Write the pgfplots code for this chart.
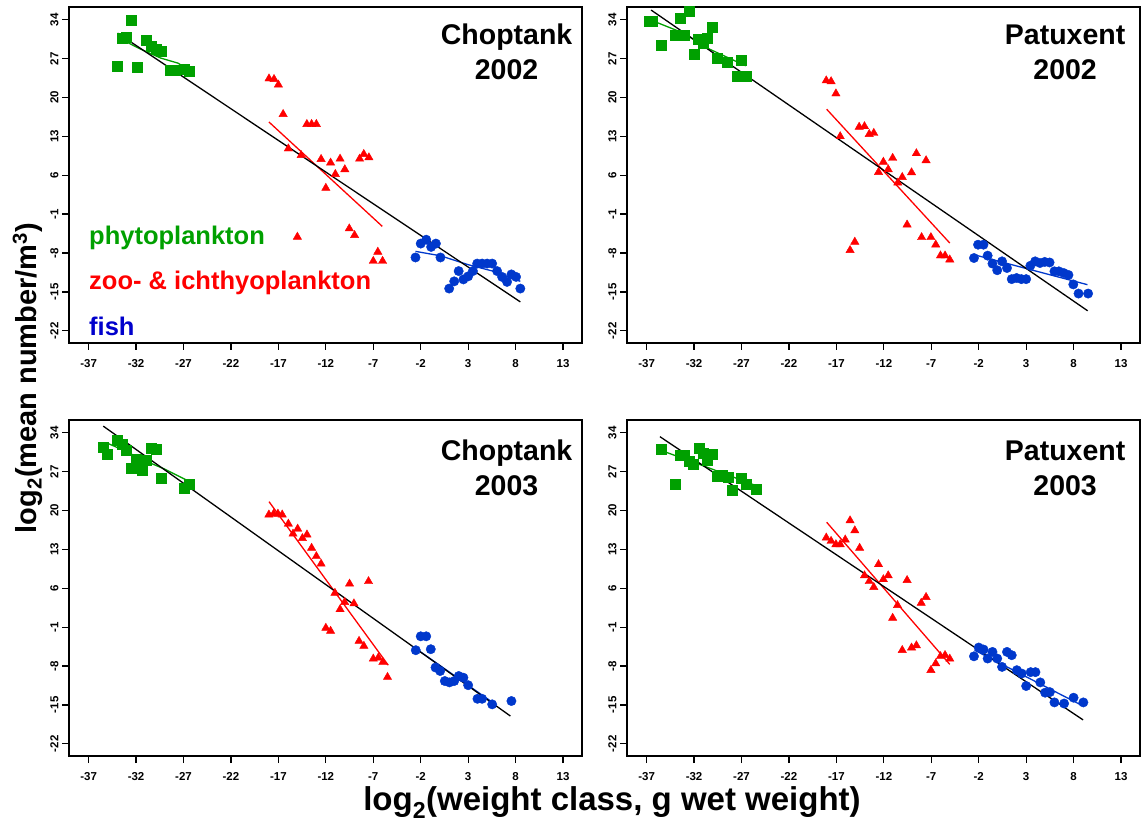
\documentclass[border=0pt]{standalone}
\usepackage{fontspec}
\setmainfont{Liberation Sans}
\usepackage{pgfplots}
\pgfplotsset{compat=1.18}

\definecolor{phyto}{RGB}{0,160,0}
\definecolor{zoo}{RGB}{255,0,0}
\definecolor{fishc}{RGB}{0,56,204}
\definecolor{fishtxt}{RGB}{0,0,204}

\pgfplotsset{
  panel/.style={
    scale only axis, width=513pt, height=336pt,
    anchor=north west,
    xmin=-39.07, xmax=15.0, ymin=-24.2, ymax=36.3,
    xtick={-37,-32,...,13}, ytick={-22,-15,...,34},
    tick align=outside, tick pos=left,
    major tick length=7pt,
    axis line style={line width=1.8pt},
    major tick style={line width=1.3pt, black},
    ticklabel style={font=\fontsize{11.5}{13}\selectfont\bfseries},
    /pgf/number format/assume math mode=true,
    xticklabel style={yshift=-6pt},
    yticklabel style={rotate=90, anchor=south},
  },
  phy/.style={only marks, mark=square*, mark size=5pt, color=phyto},
  zp/.style={only marks, mark=triangle*, mark size=4.8pt, color=zoo},
  fp/.style={only marks, mark=*, mark size=4.7pt, color=fishc},
  fit/.style={no markers, line width=1.3pt},
}
\newcommand{\ttl}{\fontsize{28.5}{34}\selectfont\bfseries}

\begin{document}
\begin{tikzpicture}
\useasboundingbox (0pt,0pt) rectangle (1141pt,825pt);

% Choptank 2002
\begin{axis}[panel, at={(69pt,818pt)}]
\addplot[phy] table {
-32.55 34.0
-33.5 30.7
-33.0 30.9
-33.95 25.6
-31.9 25.4
-30.9 30.3
-30.4 29.2
-29.9 28.7
-29.4 28.3
-28.45 24.85
-27.9 24.85
-26.9 25.1
-26.4 24.8
};
\addplot[zp] table {
-17.99 23.4
-17.46 23.3
-17.0 22.3
-16.5 17.0
-14.0 15.2
-13.5 15.2
-13.0 15.2
-15.95 10.8
-14.6 9.6
-12.5 8.9
-11.5 8.25
-10.5 8.96
-11.0 6.2
-10.0 7.05
-12.0 3.7
-8.44 8.96
-8.0 9.8
-7.46 9.2
-15.0 -5.1
-9.53 -3.6
-8.97 -4.8
-6.52 -7.8
-7.0 -9.45
-6.02 -9.45
};
\addplot[fp] table {
-2.55 -8.8
-2.0 -6.3
-1.42 -5.6
-0.9 -6.9
-0.4 -6.3
0.08 -8.8
1.0 -14.4
1.53 -13.1
2.0 -11.25
2.5 -12.75
3.0 -12.2
3.5 -11.25
3.95 -9.9
4.47 -9.9
5.0 -9.9
5.53 -9.9
6.05 -11.25
6.58 -12.3
7.1 -13.2
7.56 -11.85
8.05 -12.3
8.5 -14.4
};
\addplot[fit, phyto] table {
-33.6 30.5
-31.5 28.7
-29.4 27.1
-27.6 26.2
-27.1 25.7
};
\addplot[fit, zoo] table {
-18.0 15.6
-6.05 -3.2
};
\addplot[fit, fishc] table {
-2.55 -7.7
0.09 -8.5
3.0 -10.1
5.7 -11.3
8.5 -13.1
};
\addplot[fit, black] table {
-33.95 31.6
8.5 -16.8
};
\node[anchor=base, font=\ttl] at (rel axis cs:0.853,0.887) {Choptank};
\node[anchor=base, font=\ttl] at (rel axis cs:0.853,0.783) {2002};
\node[anchor=base west, font=\fontsize{25.5}{30}\selectfont\bfseries, text=phyto, inner sep=0pt] at (rel axis cs:0.039,0.292) {phytoplankton};
\node[anchor=base west, font=\fontsize{25.5}{30}\selectfont\bfseries, text=zoo, inner sep=0pt] at (rel axis cs:0.039,0.158) {zoo- \& ichthyoplankton};
\node[anchor=base west, font=\fontsize{25.5}{30}\selectfont\bfseries, text=fishtxt, inner sep=0pt] at (rel axis cs:0.039,0.022) {fish};
\end{axis}

% Patuxent 2002
\begin{axis}[panel, at={(627pt,818pt)}]
\addplot[phy] table {
-36.78 33.7
-36.42 33.7
-35.44 29.5
-33.95 31.2
-33.48 34.3
-33.0 31.2
-32.5 35.6
-32.03 27.8
-31.52 30.5
-31.09 29.7
-30.58 30.6
-30.07 32.6
-29.56 27.1
-28.5 26.3
-26.99 26.8
-27.5 23.8
-26.5 23.8
};
\addplot[zp] table {
-18.07 23.05
-17.56 22.9
-17.05 20.7
-16.6 13.0
-14.6 14.7
-14.04 14.8
-13.54 13.4
-13.06 13.6
-12.56 6.56
-12.05 8.4
-11.54 7.05
-11.07 9.1
-10.53 4.65
-10.06 5.66
-9.08 6.5
-8.57 9.94
-7.55 8.67
-9.55 -2.9
-8.02 -5.17
-7.04 -5.17
-6.53 -6.5
-15.06 -6.0
-15.56 -7.5
-6.03 -8.47
-5.55 -8.47
-5.05 -9.2
};
\addplot[fp] table {
-2.5 -8.9
-2.07 -6.5
-1.5 -6.5
-1.06 -8.47
-0.55 -9.9
-0.05 -11.1
0.46 -9.5
0.98 -10.7
1.48 -12.7
1.99 -12.5
2.5 -12.7
3.0 -12.7
3.44 -10.3
3.95 -9.5
4.46 -9.8
4.96 -9.6
5.47 -9.7
5.98 -11.3
6.45 -11.3
6.96 -11.6
7.46 -11.95
7.97 -13.65
8.52 -15.3
9.53 -15.3
};
\addplot[fit, phyto] table {
-36.35 33.8
-33.26 31.7
-30.36 28.7
-26.55 25.7
};
\addplot[fit, zoo] table {
-18.03 17.9
-5.05 -6.2
};
\addplot[fit, fishc] table {
-2.5 -8.3
9.46 -13.7
};
\addplot[fit, black] table {
-36.53 35.75
9.48 -18.4
};
\node[anchor=base, font=\ttl] at (rel axis cs:0.854,0.887) {Patuxent};
\node[anchor=base, font=\ttl] at (rel axis cs:0.854,0.783) {2002};
\end{axis}

% Choptank 2003
\begin{axis}[panel, at={(69pt,405pt)}]
\addplot[phy] table {
-35.5 31.4
-35.0 30.1
-34.0 32.7
-33.5 32.0
-33.0 30.9
-32.5 27.6
-31.95 29.3
-31.4 27.3
-30.9 29.1
-30.44 31.2
-29.9 31.0
-29.4 25.8
-26.97 24.1
-26.44 24.7
};
\addplot[zp] table {
-18.0 19.25
-17.5 19.4
-17.05 19.4
-16.6 19.25
-15.95 17.6
-15.46 15.8
-14.97 16.7
-14.47 15.0
-13.99 15.65
-13.5 13.25
-13.0 11.75
-12.5 10.4
-9.5 6.8
-7.5 7.25
-11.04 5.15
-10.02 3.5
-10.5 2.2
-9.04 3.25
-12.0 -1.15
-11.5 -1.7
-8.5 -3.5
-7.99 -4.4
-7.0 -6.7
-6.47 -6.5
-5.99 -7.3
-5.5 -10.0
};
\addplot[fp] table {
-2.52 -5.15
-2.0 -2.65
-1.42 -2.65
-0.94 -4.97
-0.44 -8.27
0.05 -8.9
0.54 -10.7
1.03 -10.95
1.53 -10.7
2.01 -9.8
2.5 -10.1
3.0 -11.45
3.98 -13.9
4.47 -13.9
5.53 -14.9
7.56 -14.3
};
\addplot[fit, phyto] table {
-35.49 32.0
-35.0 32.1
-33.25 30.8
-31.14 29.0
-29.04 27.5
-26.58 25.4
};
\addplot[fit, zoo] table {
-17.99 21.6
-5.42 -7.85
};
\addplot[fit, fishc] table {
-2.52 -4.85
5.7 -14.7
};
\addplot[fit, black] table {
-35.46 35.2
7.45 -17.0
};
\node[anchor=base, font=\ttl] at (rel axis cs:0.853,0.880) {Choptank};
\node[anchor=base, font=\ttl] at (rel axis cs:0.853,0.776) {2003};
\end{axis}

% Patuxent 2003
\begin{axis}[panel, at={(627pt,405pt)}]
\addplot[phy] table {
-35.44 31.0
-33.95 24.75
-33.5 30.0
-33.0 30.0
-32.5 28.9
-32.07 28.3
-31.5 31.2
-31.06 30.4
-30.58 29.0
-30.08 30.2
-29.57 26.1
-28.99 26.3
-28.45 26.0
-27.97 23.6
-27.03 25.8
-26.52 24.75
-25.5 23.75
};
\addplot[zp] table {
-18.07 15.1
-17.56 14.5
-17.05 13.9
-16.6 13.9
-16.07 14.75
-15.56 18.2
-15.06 16.4
-14.55 13.25
-14.04 8.3
-13.54 7.25
-13.06 6.2
-12.56 10.3
-12.05 7.6
-11.54 8.3
-9.55 7.45
-7.55 4.4
-10.56 2.94
-11.07 0.65
-10.06 -5.15
-9.08 -4.7
-8.57 -4.3
-8.06 3.35
-7.04 -8.75
-6.53 -7.55
-6.03 -6.25
-5.55 -6.05
-5.05 -6.7
};
\addplot[fp] table {
-2.5 -6.25
-2.0 -4.67
-1.49 -5.03
-1.06 -6.65
-0.55 -5.46
-0.05 -6.65
0.46 -8.16
0.98 -5.46
1.48 -6.05
2.02 -8.75
2.53 -9.35
3.0 -11.6
3.48 -9.1
3.98 -9.1
4.49 -10.95
5.0 -12.8
5.5 -12.7
5.98 -14.55
7.0 -14.75
8.0 -13.7
9.03 -14.55
};
\addplot[fit, phyto] table {
-35.44 30.8
-31.1 28.1
-25.5 24.5
};
\addplot[fit, zoo] table {
-18.03 17.9
-5.05 -7.7
};
\addplot[fit, fishc] table {
-2.44 -5.15
9.0 -15.2
};
\addplot[fit, black] table {
-35.6 33.3
9.0 -17.7
};
\node[anchor=base, font=\ttl] at (rel axis cs:0.854,0.880) {Patuxent};
\node[anchor=base, font=\ttl] at (rel axis cs:0.854,0.776) {2003};
\end{axis}

\node[rotate=90, anchor=base, font=\fontsize{29}{34}\selectfont\bfseries] at (36pt,447pt) {log\textsubscript{2}(mean number/m\textsuperscript{3})};
\node[anchor=base, font=\fontsize{33}{38}\selectfont\bfseries] at (612pt,14pt) {log\textsubscript{2}(weight class, g wet weight)};
\end{tikzpicture}
\end{document}
